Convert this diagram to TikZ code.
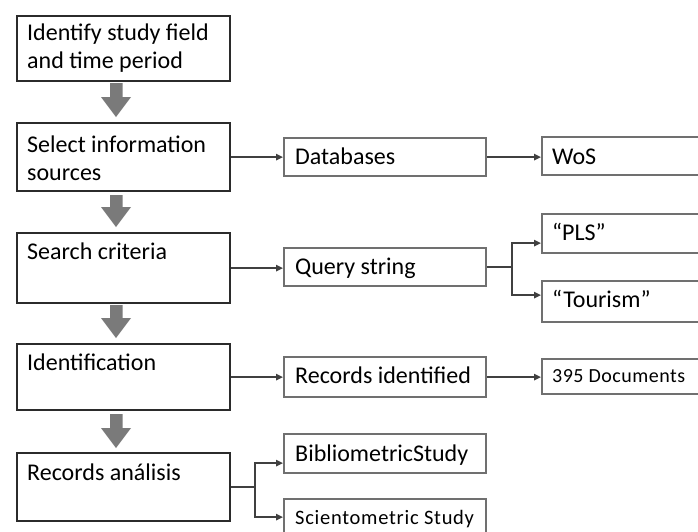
\documentclass[tikz,border=0pt]{standalone}
\usepackage{fontspec}
\setmainfont{Carlito}
\usetikzlibrary{arrows.meta,calc}

\definecolor{stepline}{HTML}{2B2B2B}
\definecolor{itemline}{HTML}{707070}
\definecolor{wireline}{HTML}{404040}
\definecolor{blockfill}{HTML}{7A7A7A}

\tikzset{
  stepbox/.style={draw=stepline, line width=2.2pt, anchor=north west,
    minimum width=213pt, inner sep=0pt},
  itembox/.style={draw=itemline, line width=2.2pt, anchor=north west,
    minimum width=202pt, inner sep=0pt},
  endbox/.style={itembox, minimum width=180pt},
  txt/.style={anchor=base west, inner sep=0pt, font=\fontsize{24}{28}\selectfont},
  smalltxt/.style={anchor=base west, inner sep=0pt,
    font=\fontsize{20}{24}\selectfont\addfontfeature{LetterSpace=2.5}},
  wire/.style={draw=wireline, line width=1.5pt},
  link/.style={wire, -{Triangle[length=7pt,width=6.5pt]}},
}

% fat grey arrow between two steps: #1 = top of shaft, #2 = tip
\newcommand\blockarrow[2]{%
  \fill[blockfill] (110,#1) -- (122.5,#1) -- (122.5,{#2-20}) -- (131,{#2-20})
    -- (116,#2) -- (101,{#2-20}) -- (110,{#2-20}) -- cycle;}

\begin{document}
\begin{tikzpicture}[x=1pt,y=-1pt]
  \useasboundingbox (0,0) rectangle (698,531);
  \clip (0,0) rectangle (698,531);
  \fill[white] (0,0) rectangle (698,531);

  % main steps
  \node[stepbox, minimum height=65pt] (s1) at (16,15) {};
  \node[stepbox, minimum height=68pt] (s2) at (16,122) {};
  \node[stepbox, minimum height=70pt] (s3) at (16,232) {};
  \node[stepbox, minimum height=66pt] (s4) at (16,343) {};
  \node[stepbox, minimum height=68pt] (s5) at (16,452) {};

  \node[txt] (s1a) at (27,40) {Identify study field};
  \node[txt] (s1b) at (27,68) {and time period};
  \node[txt] (s2a) at (27,152) {Select information};
  \node[txt] (s2b) at (27,180) {sources};
  \node[txt] (s3a) at (27,259) {Search criteria};
  \node[txt] (s4a) at (27,370) {Identification};
  \node[txt] (s5a) at (27,480) {Records análisis};

  \blockarrow{83}{117}
  \blockarrow{195}{227}
  \blockarrow{305}{338}
  \blockarrow{414}{448}

  % second column
  \node[itembox, minimum height=38pt] (db) at (283,137) {};
  \node[itembox, minimum height=38pt] (qs) at (283,247) {};
  \node[itembox, minimum height=40pt] (ri) at (283,356) {};
  \node[itembox, minimum height=39pt] (bib) at (283,433) {};
  \node[itembox, minimum height=39pt] (sci) at (283,498) {};

  \node[txt] (dbt) at (295,164) {Databases};
  \node[txt] (qst) at (295,274) {Query string};
  \node[txt] (rit) at (295,383) {Records identified};
  \node[txt] (bibt) at (295,461) {BibliometricStudy};
  \node[smalltxt, font=\fontsize{20.5}{24}\selectfont\addfontfeature{LetterSpace=3.5}]
    (scit) at (295,524) {Scientometric Study};

  % third column
  \node[endbox, minimum height=38pt] (wos) at (541,136) {};
  \node[endbox, minimum height=39pt] (pls) at (541,213) {};
  \node[endbox, minimum height=41pt] (tour) at (541,280) {};
  \node[endbox, minimum height=35pt] (docs) at (541,358) {};

  \node[txt] (wost) at (552,164) {WoS};
  \node[txt] (plst) at (552,240) {“PLS”};
  \node[txt] (tourt) at (552,307) {“Tourism”};
  \node[smalltxt] (docst) at (552,382) {395 Documents};

  % connectors
  \draw[link] (s2.east) -- (s2.east -| db.west);
  \draw[link] (s3.east) -- (s3.east -| qs.west);
  \draw[link] (s4.east) -- (s4.east -| ri.west);
  \draw[link] (db.east) -- (db.east -| wos.west);
  \draw[link] (ri.east) -- (ri.east -| docs.west);

  \coordinate (qj) at (512,267);
  \draw[wire] (qs.east |- qj) -- (qj);
  \draw[link] (qj) |- ($(pls.west)+(0,9.5)$);
  \draw[link] (qj) |- ($(tour.west)+(0,-6.5)$);

  \coordinate (rj) at (255,487);
  \draw[wire] (s5.east |- rj) -- (rj);
  \draw[link] (rj) |- ($(bib.west)+(0,9.5)$);
  \draw[link] (rj) |- ($(sci.west)+(0,-1.5)$);
\end{tikzpicture}
\end{document}
